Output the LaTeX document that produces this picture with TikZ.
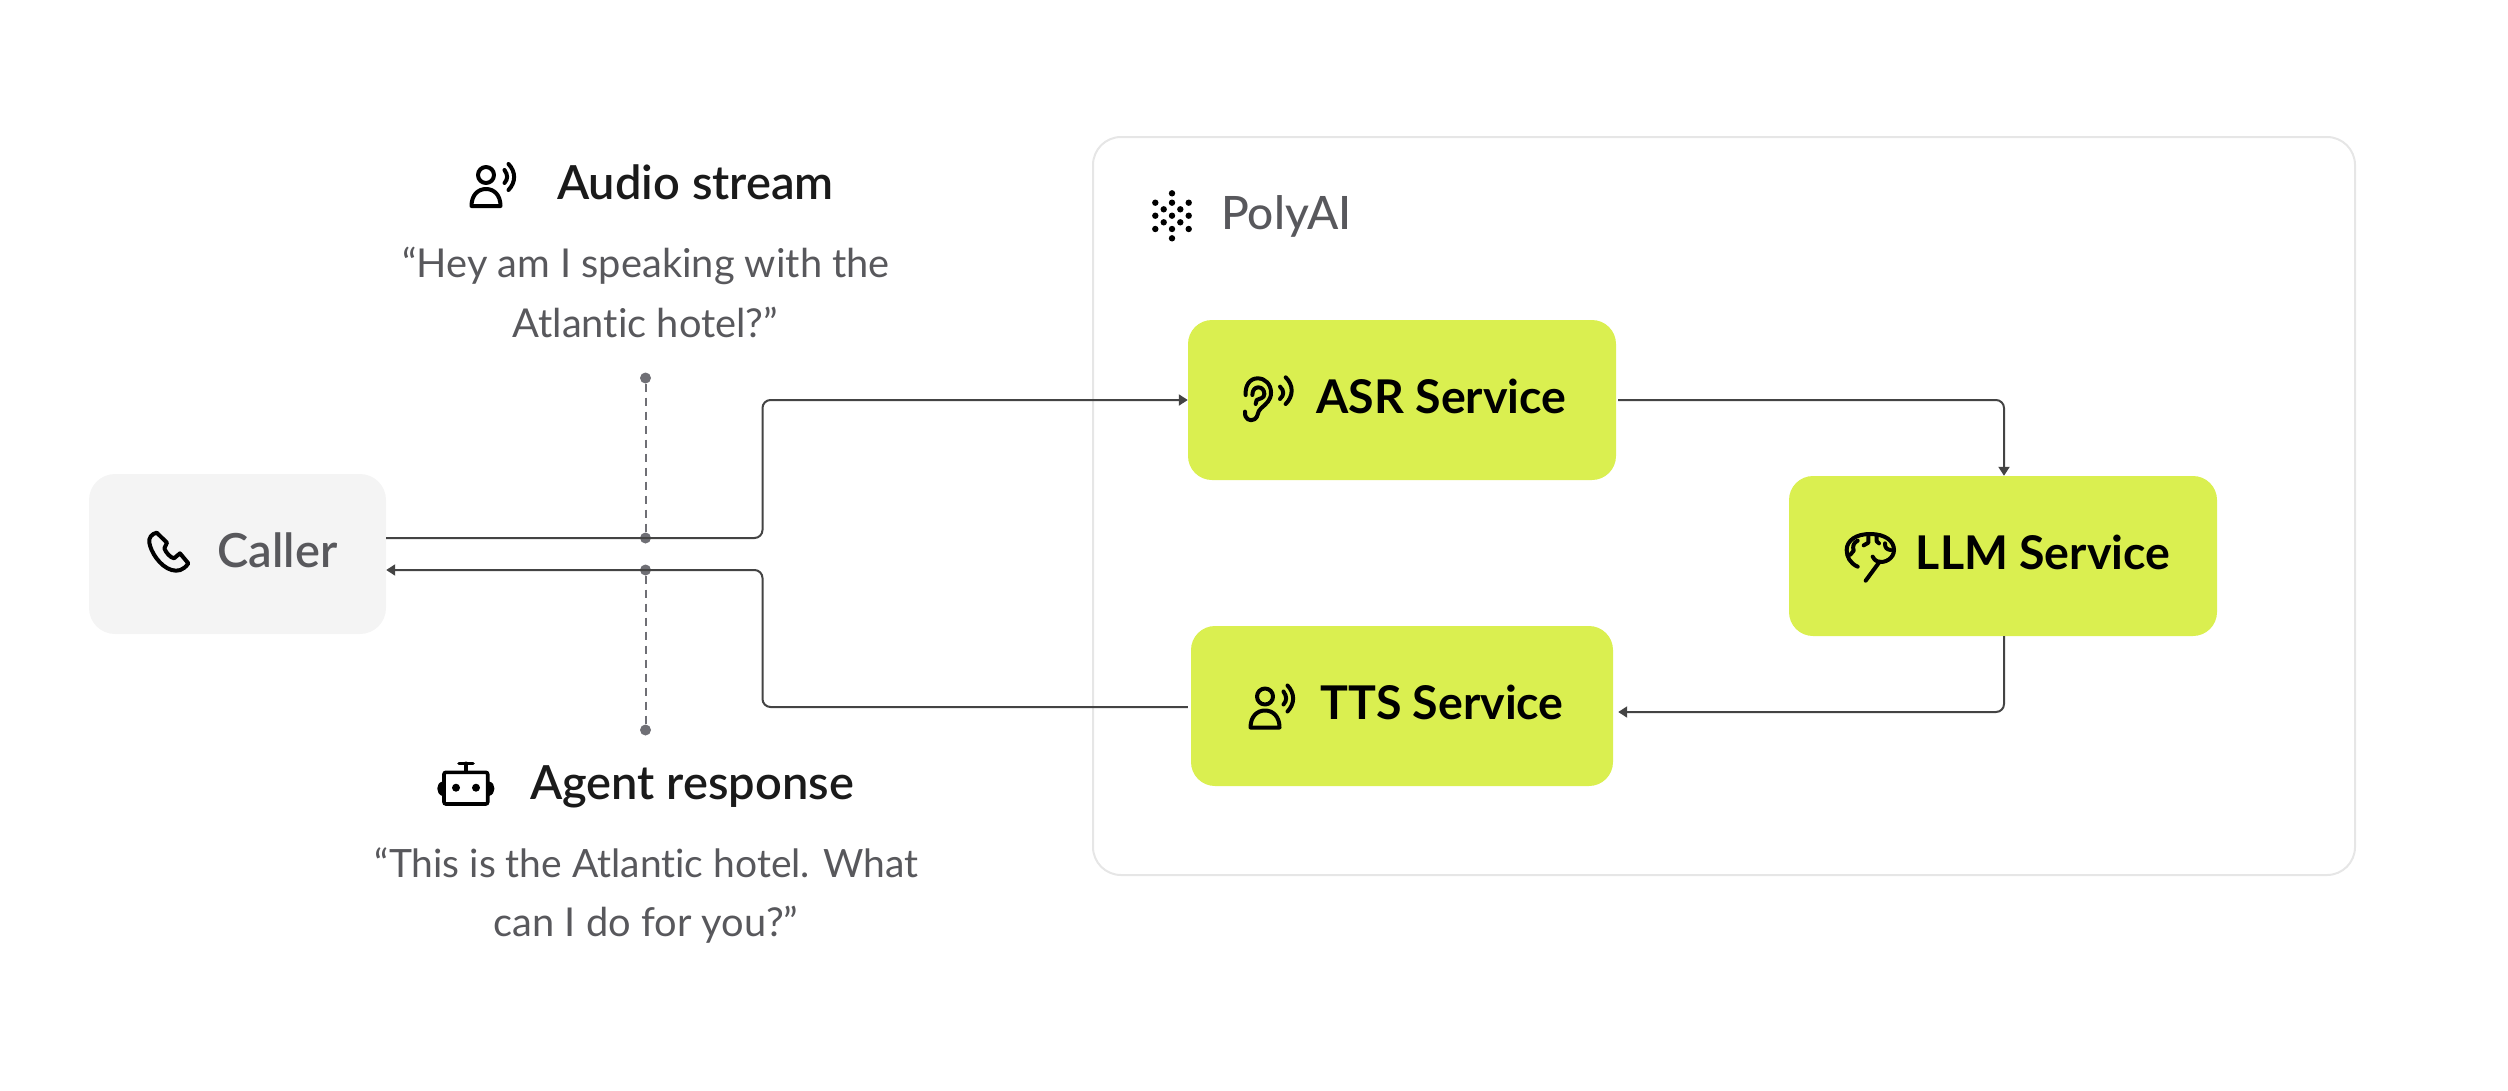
\documentclass[tikz,border=0pt]{standalone}
\usepackage{fontspec}
\setmainfont[Ligatures=NoCommon]{Lato}
\newfontfamily\semifont[Ligatures=NoCommon]{Lato Semibold}
\newfontfamily\medfont[Ligatures=NoCommon]{Lato Medium}
\usetikzlibrary{arrows.meta}
\definecolor{lime}{HTML}{DAEF50}
\definecolor{soft}{HTML}{F4F4F4}
\definecolor{frame}{HTML}{E6E6E6}
\definecolor{greytext}{HTML}{58585C}
\definecolor{headtext}{HTML}{1A1A1A}
\definecolor{wire}{HTML}{444444}
\definecolor{dotgrey}{HTML}{6F6F75}
\tikzset{
  service/.style={fill=lime,rounded corners=24pt,inner sep=0pt,minimum height=160pt,text=black,text height=32pt,text depth=6pt,font=\fontsize{46.5}{47}\selectfont\bfseries},
  callerbox/.style={fill=soft,rounded corners=26pt,inner sep=0pt,minimum height=160pt,minimum width=297pt,text=greytext,text height=32pt,text depth=6pt,font=\fontsize{47}{47}\semifont},
  headline/.style={anchor=base west,inner sep=0pt,text=headtext,font=\fontsize{47}{47}\semifont},
  quotetext/.style={anchor=base,inner sep=0pt,text=greytext,font=\fontsize{39.8}{40}\selectfont},
  brand/.style={anchor=base west,inner sep=0pt,text=greytext,font=\fontsize{46}{46}\medfont},
  wireline/.style={draw=wire,line width=2pt,rounded corners=8pt},
  wirearrow/.style={wireline,-{Triangle[length=9pt,width=11pt]}},
  tapdot/.style={circle,fill=dotgrey,inner sep=0pt,minimum size=11pt},
  tapline/.style={draw=dotgrey,line width=2pt,dash pattern=on 8pt off 6pt},
  iconline/.style={draw=black,line width=4pt,line cap=round,line join=round},
  logodot/.style={fill=black},
  person/.pic={
    \draw[iconline] (0,0) circle (8pt);
    \draw[iconline] (-14.5,31) .. controls (-14.5,20) and (-8,14) .. (0,14) .. controls (8,14) and (14.5,20) .. (14.5,31) -- cycle;
    \draw[iconline] (18.5,-5) .. controls (22,0) and (22,4) .. (18.5,8);
    \draw[iconline] (22.5,-11) .. controls (30,-3) and (30,7) .. (22.5,15);
  }
}
\begin{document}
\begin{tikzpicture}[x=1pt,y=-1pt]
\useasboundingbox (0,0) rectangle (2508,1090);
% frame
\node[draw=frame,line width=2pt,rounded corners=28pt,minimum width=1262pt,minimum height=738pt,inner sep=0pt] (platform) at (1724,506) {};
% boxes
\node[callerbox] (caller) at (237.5,554) {\hspace*{80pt}Caller};
\node[service,minimum width=428pt] (asr) at (1402,400) {\hspace*{79pt}ASR Service};
\node[service,minimum width=428pt] (llm) at (2003,556) {\hspace*{80pt}LLM Service};
\node[service,minimum width=422pt] (tts) at (1402,706) {\hspace*{80pt}TTS Service};
% tap points
\node[tapdot] (d1) at (645.5,378) {};
\node[tapdot] (d2) at (645.5,538) {};
\node[tapdot] (d3) at (645.5,570) {};
\node[tapdot] (d4) at (645.5,730) {};
\draw[tapline] (d1) -- (d2);
\draw[tapline] (d3) -- (d4);
% connectors
\coordinate (k1) at (762.5,538);
\coordinate (k2) at (762.5,400);
\coordinate (k3) at (762.5,570);
\coordinate (k4) at (762.5,707);
\coordinate (k5) at (2004,400);
\coordinate (k6) at (2004,712);
\draw[wirearrow] ([yshift=16pt]caller.east) -- (k1) -- (k2) -- (asr.west);
\draw[wirearrow] ([xshift=-3pt]tts.west |- k4) -- (k4) -- (k3) -- ([yshift=-16pt]caller.east);
\draw[wirearrow] ([xshift=2pt]asr.east) -- (k5) -- (k5 |- llm.north);
\draw[wirearrow] (k6 |- llm.south) -- (k6) -- ([xshift=5pt]tts.east |- k6);
% headlines
\pic at (486,175) {person};
\node[headline] (audio) at (557,199.5) {Audio stream};
\node[quotetext] (q1a) at (646,277.5) {“Hey am I speaking with the};
\node[quotetext] (q1b) at (645.5,337) {Atlantic hotel?”};
\node[headline] (agent) at (530,799.5) {Agent response};
\node[quotetext,font=\fontsize{39}{40}\selectfont] (q2a) at (646.5,877) {“This is the Atlantic hotel. What};
\node[quotetext] (q2b) at (646,936) {can I do for you?”};
\node[brand] (poly) at (1221,229) {PolyAI};
\pic at (1265,696.5) {person};
% phone
\begin{scope}[shift={(140,520)},x=0.3333pt,y=-0.3333pt]
\draw[iconline] (50,38) .. controls (35,42) and (26,52) .. (28,68) .. controls (32,95) and (60,140) .. (95,150) .. controls (112,155) and (130,152) .. (145,130) -- (120,100) -- (102,115) .. controls (90,112) and (78,98) .. (73,85) -- (81,68) -- cycle;
\end{scope}
% ear
\begin{scope}[shift={(1235,370)},x=0.3333pt,y=-0.3333pt]
\draw[iconline] (30,125) .. controls (28,148) and (45,155) .. (58,148) .. controls (72,140) and (65,125) .. (78,115) .. controls (95,100) and (108,90) .. (108,68) .. controls (108,42) and (90,25) .. (68,25) .. controls (45,25) and (30,45) .. (32,75);
\draw[iconline] (52,75) .. controls (52,60) and (60,52) .. (70,52) .. controls (82,52) and (88,62) .. (88,72) .. controls (88,85) and (75,85) .. (65,90) -- (62,102);
\draw[iconline] (135,50) .. controls (148,62) and (148,75) .. (135,87);
\draw[iconline] (152,22) .. controls (176,45) and (176,78) .. (152,102);
\end{scope}
% brain
\begin{scope}[shift={(1835,520)},x=0.3333pt,y=-0.3333pt]
\draw[iconline] (68,140) .. controls (45,130) and (35,110) .. (35,90) .. controls (35,60) and (65,42) .. (105,42) .. controls (150,42) and (177,62) .. (177,90) .. controls (177,115) and (150,130) .. (130,125) .. controls (120,122) and (115,115) .. (113,110);
\draw[iconline] (134,125) -- (92,182);
\draw[iconline] (68,62) .. controls (55,68) and (52,80) .. (56,92) (56,92) -- (46,104);
\draw[iconline] (100,46) -- (100,68) -- (86,76);
\draw[iconline] (125,46) -- (125,64) -- (132,70);
\draw[iconline] (150,70) .. controls (150,84) and (155,88) .. (167,90);
\end{scope}
% robot
\draw[draw=black,line width=3.6pt,rounded corners=2pt] (444,772.3) rectangle (487.7,804);
\draw[draw=black,line width=3.6pt,line cap=round] (459,763.3) -- (473,763.3) (466,763.3) -- (466,772);
\fill[black] (442.5,781.5) .. controls (435.5,783) and (435.5,794) .. (442.5,796) -- cycle;
\fill[black] (489.2,781.5) .. controls (496.2,783) and (496.2,794) .. (489.2,796) -- cycle;
\fill[black] (456,787.7) circle (4pt) (476,787.7) circle (4pt);
% logo
\foreach \px/\py/\pr in {1172/193.3/3.2,1155.3/202.7/3.2,1172/202.7/3.2,1188.7/202.7/3.2,1163.7/209.3/3.2,1180.3/209.3/3.2,1155.3/215.7/3.2,1172/215.7/3.2,1188.7/215.7/3.2,1163.7/222.3/3.2,1180.3/222.3/3.2,1155.3/229/3.2,1172/229/3.2,1188.7/229/3.2,1172/238.3/3.2}
  \fill[logodot] (\px,\py) circle (\pr pt);
\end{tikzpicture}
\end{document}
